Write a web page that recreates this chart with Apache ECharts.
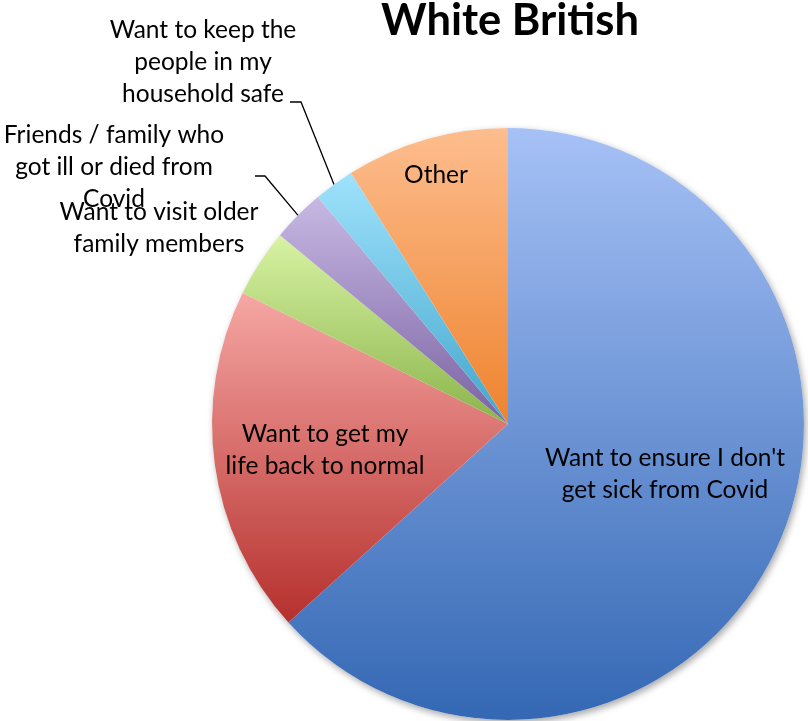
<!DOCTYPE html>
<html>
<head>
<meta charset="utf-8">
<title>White British</title>
<script src="https://cdn.jsdelivr.net/npm/echarts@6/dist/echarts.min.js"></script>
<style>
  html, body { margin: 0; padding: 0; background: #fff; }
  #chart { width: 808px; height: 721px; }
</style>
</head>
<body>
<div id="chart"></div>
<script>
// categories, clockwise from 12 o'clock
const reasons = [
  "Want to ensure I don't get sick from Covid",
  'Want to get my life back to normal',
  'Want to visit older family members',
  'Friends / family who got ill or died from Covid',
  'Want to keep the people in my household safe',
  'Other'
];
// share of answers (%)
const shares = [63.3, 19.0, 3.7, 2.9, 2.2, 8.9];
// label text as it wraps in the picture
const labelLines = [
  "Want to ensure I don't\nget sick from Covid",
  'Want to get my\nlife back to normal',
  'Want to visit older\nfamily members',
  'Friends / family who\ngot ill or died from\nCovid',
  'Want to keep the\npeople in my\nhousehold safe',
  'Other'
];

// styling / layout
const sliceColors = [
  ['#a6c1f6', '#3468b4'],
  ['#f6a7a4', '#b5302d'],
  ['#d8f3a4', '#8bb44b'],
  ['#c7b8e3', '#7a62a2'],
  ['#9fe2fc', '#43a6cc'],
  ['#fdbd8e', '#ee832e']
];
const labelPos = [[665, 474], [325, 450], [159, 228], [114, 167], [203, 62], [436, 175]];
const labelInside = [true, true, false, false, false, true];
// leader bend point and end point (near the label)
const leaders = {
  3: [[265, 176], [255, 176]],
  4: [[301, 102], [290, 102]]
};

const FONT = 'Lato';

var chart = echarts.init(document.getElementById('chart'));

const pieData = reasons.map(function (name, i) {
  return {
    name: name,
    value: shares[i],
    itemStyle: {
      color: new echarts.graphic.LinearGradient(0, 0, 0, 1, [
        { offset: 0, color: sliceColors[i][0] },
        { offset: 1, color: sliceColors[i][1] }
      ])
    },
    label: { position: labelInside[i] ? 'inside' : 'outside' },
    labelLine: { show: !!leaders[i] }
  };
});

chart.setOption({
  animation: false,
  title: {
    text: 'White British',
    left: 505,
    top: -6,
    textAlign: 'center',
    textStyle: { fontFamily: FONT, fontWeight: 'bold', fontSize: 43.5, color: '#000' }
  },
  series: [
    {
      // backing disc only for the soft outer shadow
      type: 'pie',
      silent: true,
      center: [508, 424],
      radius: 296,
      z: 1,
      label: { show: false },
      labelLine: { show: false },
      itemStyle: {
        color: '#ffffff',
        shadowBlur: 7,
        shadowOffsetX: 2,
        shadowOffsetY: 3,
        shadowColor: 'rgba(0,0,0,0.35)'
      },
      data: [1]
    },
    {
      type: 'pie',
      center: [508, 424],
      radius: 296,
      z: 2,
      startAngle: 90,
      clockwise: true,
      avoidLabelOverlap: false,
      data: pieData,
      label: {
        show: true,
        formatter: function (p) { return labelLines[p.dataIndex]; },
        fontFamily: FONT,
        fontSize: 24.5,
        lineHeight: 32,
        color: '#000',
        align: 'center'
      },
      labelLine: {
        show: true,
        lineStyle: { color: '#000', width: 1.3 }
      },
      labelLayout: function (params) {
        var i = params.dataIndex;
        var out = {
          x: labelPos[i][0],
          y: labelPos[i][1],
          align: 'center',
          verticalAlign: 'middle'
        };
        if (leaders[i] && params.labelLinePoints) {
          var p0 = params.labelLinePoints[0];
          out.labelLinePoints = [[p0[0], p0[1]], leaders[i][0].slice(), leaders[i][1].slice()];
        }
        return out;
      }
    }
  ]
});
</script>
</body>
</html>
